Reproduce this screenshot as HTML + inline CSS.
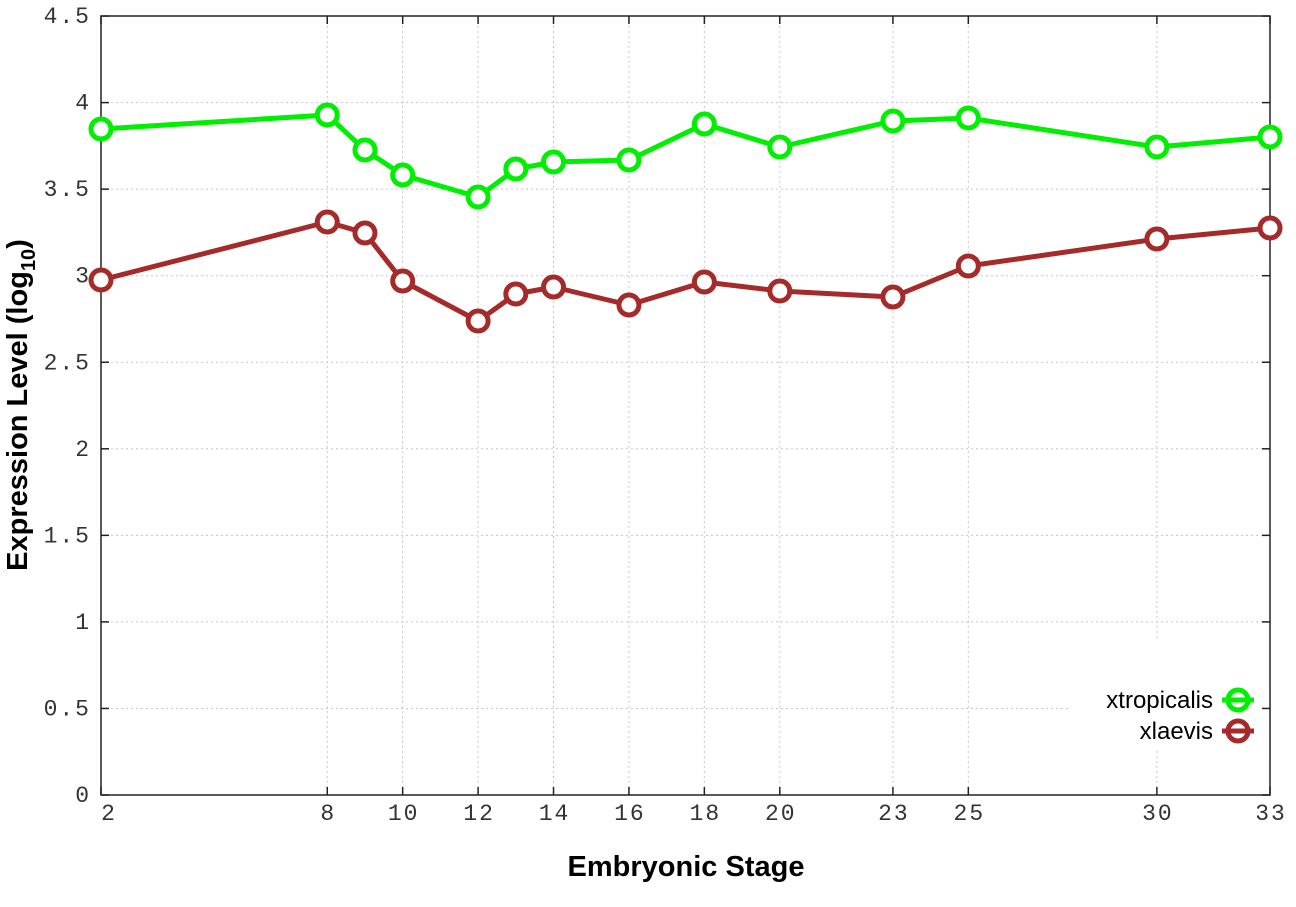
<!DOCTYPE html>
<html><head><style>
html,body{margin:0;padding:0;background:#fff;}
svg{display:block;}
.t{font-family:"Liberation Mono",monospace;font-size:23px;fill:#333;letter-spacing:2px;}
.g{stroke:#c8c8c8;stroke-width:1;stroke-dasharray:2,3;}
</style></head><body>
<svg width="1296" height="907" viewBox="0 0 1296 907" xmlns="http://www.w3.org/2000/svg">
<rect width="1296" height="907" fill="#fff"/>
<g id="grid"></g>
<rect x="1070" y="680" width="198" height="70" fill="#fff"/>
<rect x="1150" y="640" width="16" height="40" fill="#fff"/>
<rect x="101" y="16" width="1169" height="779" fill="none" stroke="#222" stroke-width="1.5"/>
<g id="ticks"></g>
<g id="series"></g>
<text x="1213" y="708" font-family="Liberation Sans,sans-serif" font-size="24" text-anchor="end" fill="#000">xtropicalis</text>
<text x="1213" y="739" font-family="Liberation Sans,sans-serif" font-size="24" text-anchor="end" fill="#000">xlaevis</text>
<line x1="1222" y1="700" x2="1254" y2="700" stroke="#00ee00" stroke-width="5"/>
<circle cx="1238" cy="700" r="10" fill="none" stroke="#00ee00" stroke-width="5"/>
<line x1="1222" y1="731" x2="1254" y2="731" stroke="#a52a2a" stroke-width="5"/>
<circle cx="1238" cy="731" r="10" fill="none" stroke="#a52a2a" stroke-width="5"/>
<text x="686" y="876" font-family="Liberation Sans,sans-serif" font-weight="bold" font-size="29" text-anchor="middle">Embryonic Stage</text>
<text transform="translate(27,405) rotate(-90)" font-family="Liberation Sans,sans-serif" font-weight="bold" font-size="29" text-anchor="middle">Expression Level (log<tspan font-size="20" dy="8">10</tspan><tspan dy="-8">)</tspan></text>
</svg>
<script>
const NS="http://www.w3.org/2000/svg";
function el(p,t,a,txt){const e=document.createElementNS(NS,t);for(const k in a)e.setAttribute(k,a[k]);if(txt!==undefined)e.textContent=txt;document.getElementById(p).appendChild(e);return e;}
const X=s=>101+(s-2)*37.71, Y=v=>795-v*173.1;
const st=[2,8,9,10,12,13,14,16,18,20,23,25,30,33];
const lab=[2,8,10,12,14,16,18,20,23,25,30,33];
lab.forEach(s=>{const x=X(s);
 if(s!==2&&s!==33){el("grid","line",{x1:x,y1:16,x2:x,y2:795,class:"g"});}
 el("ticks","line",{x1:x,y1:795,x2:x,y2:787,stroke:"#222","stroke-width":1.5});
 el("ticks","line",{x1:x,y1:16,x2:x,y2:24,stroke:"#222","stroke-width":1.5});
 el("ticks","text",{x:(s==2?108:x)+1,y:820,class:"t","text-anchor":"middle"},String(s));
});
for(let i=0;i<=9;i++){const v=i*0.5,y=Y(v);
 if(i>0&&i<9)el("grid","line",{x1:101,y1:y,x2:1270,y2:y,class:"g"});
 el("ticks","line",{x1:101,y1:y,x2:109,y2:y,stroke:"#222","stroke-width":1.5});
 el("ticks","line",{x1:1270,y1:y,x2:1262,y2:y,stroke:"#222","stroke-width":1.5});
 el("ticks","text",{x:91,y:y+7,class:"t","text-anchor":"end"},(i%2==0?String(v):v.toFixed(1)));
}
const gy=[129,115,150,175,197,169,162,160,124,147,121,118,147,137];
const ry=[280,222,233,281,321,294,287,305,282,291,297,266,239,228];
[[gy,"#00ee00"],[ry,"#a52a2a"]].forEach(([ys,c])=>{
 el("series","polyline",{points:st.map((s,i)=>X(s)+","+ys[i]).join(" "),fill:"none",stroke:c,"stroke-width":5,"stroke-linejoin":"round"});
 st.forEach((s,i)=>el("series","circle",{cx:X(s),cy:ys[i],r:10,fill:"#fff",stroke:c,"stroke-width":5}));
});
</script>
</body></html>
